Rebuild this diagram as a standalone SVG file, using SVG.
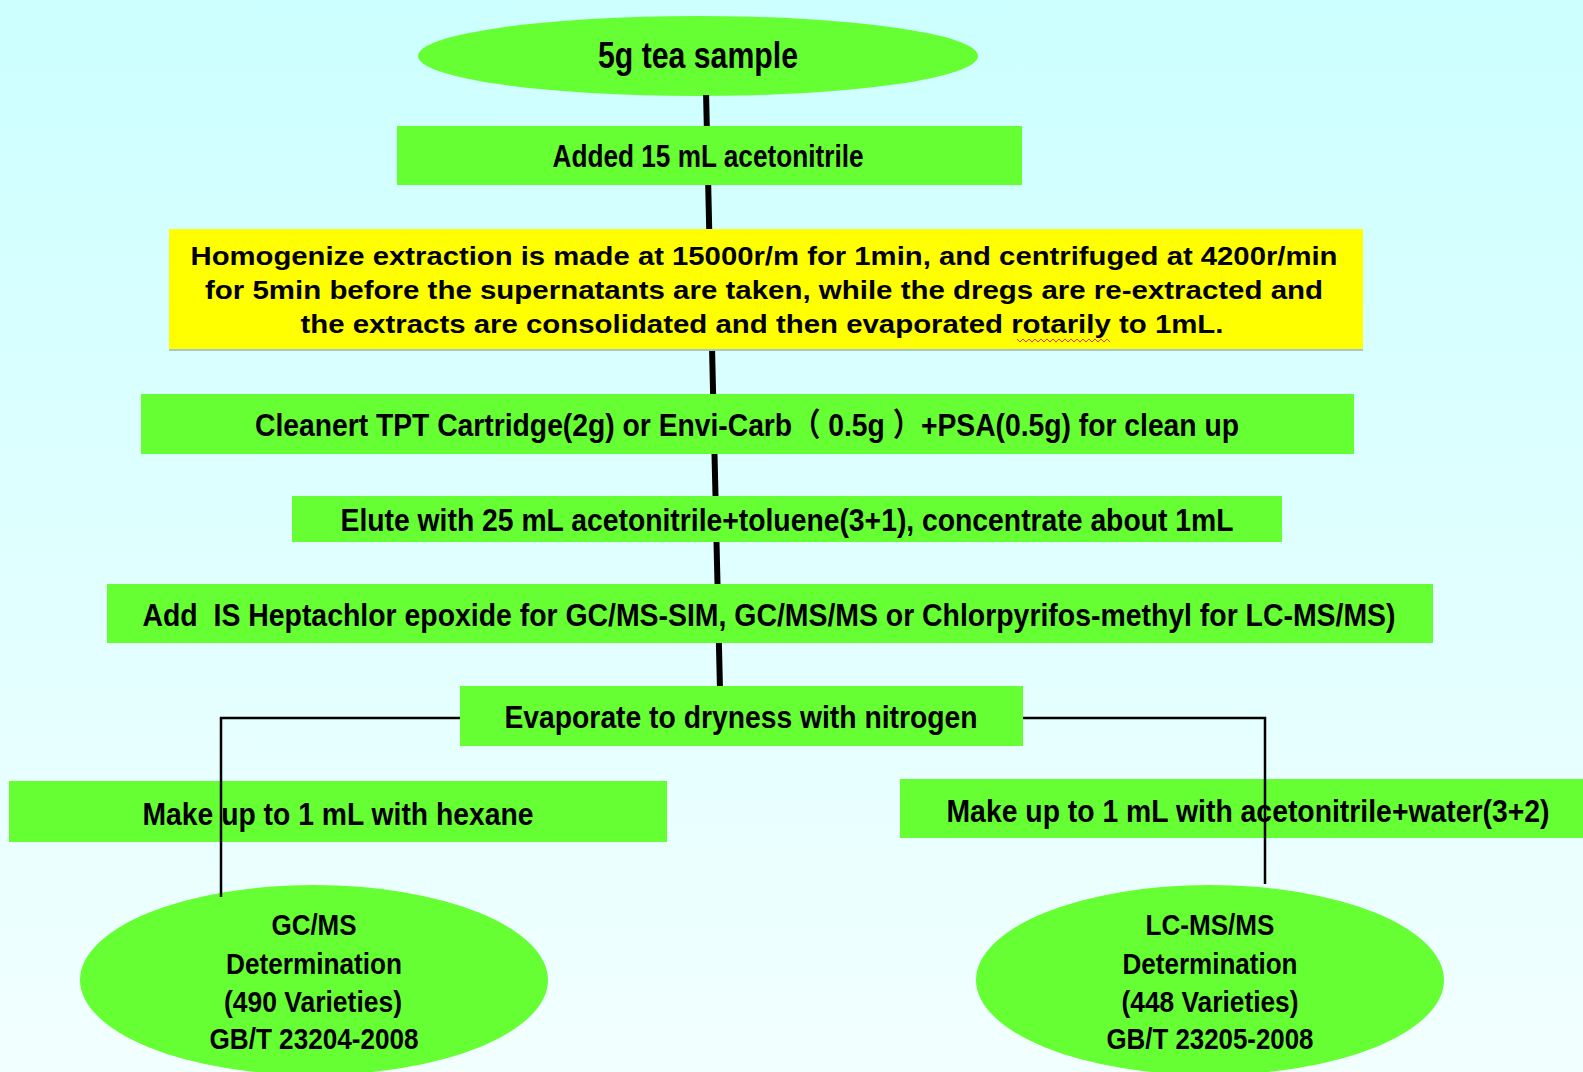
<svg xmlns="http://www.w3.org/2000/svg" width="1583" height="1072" viewBox="0 0 1583 1072">
<defs>
<linearGradient id="bg" x1="0" y1="0" x2="0" y2="1">
<stop offset="0" stop-color="#ccffff"/>
<stop offset="1" stop-color="#f2ffff"/>
</linearGradient>
</defs>
<style>
.g{fill:#66ff33}
.y{fill:#ffff00}
.t{font-family:"Liberation Sans","Noto Sans CJK SC",Arial,sans-serif;font-weight:bold;fill:#000;text-anchor:middle}
.b{font-size:32px}
.e{font-size:29px}
.s{font-size:25px}
.spine{stroke:#000;stroke-width:6;fill:none}
.br{stroke:#000;stroke-width:2.5;fill:none}
</style>
<rect width="1583" height="1072" fill="url(#bg)"/>
<g id="n1">
<ellipse class="g" cx="698" cy="56" rx="280" ry="40"/>
<text class="t" x="698" y="68" font-size="36" textLength="200" lengthAdjust="spacingAndGlyphs">5g tea sample</text>
</g>
<g id="n2">
<rect class="g" x="397" y="126" width="625" height="59"/>
<text class="t b" x="708" y="167" textLength="311" lengthAdjust="spacingAndGlyphs">Added 15 mL acetonitrile</text>
</g>
<g id="n3">
<rect class="y" x="169" y="229" width="1194" height="120"/>
<line x1="169" y1="350" x2="1363" y2="350" stroke="#a8c4d0" stroke-width="2"/>
<text class="t s" x="764" y="265" textLength="1147" lengthAdjust="spacingAndGlyphs">Homogenize extraction is made at 15000r/m for 1min, and centrifuged at 4200r/min</text>
<text class="t s" x="764" y="299" textLength="1118" lengthAdjust="spacingAndGlyphs">for 5min before the supernatants are taken, while the dregs are re-extracted and</text>
<text class="t s" x="762" y="333" textLength="923" lengthAdjust="spacingAndGlyphs">the extracts are consolidated and then evaporated rotarily to 1mL.</text>
<polyline points="1017,339 1020,342 1023,339 1026,342 1029,339 1032,342 1035,339 1038,342 1041,339 1044,342 1047,339 1050,342 1053,339 1056,342 1059,339 1062,342 1065,339 1068,342 1071,339 1074,342 1077,339 1080,342 1083,339 1086,342 1089,339 1092,342 1095,339 1098,342 1101,339 1104,342 1107,339 1110,342" fill="none" stroke="#e03030" stroke-width="1"/>
</g>
<g id="n4">
<rect class="g" x="141" y="394" width="1213" height="60"/>
<text class="t b" x="747" y="436" textLength="984" lengthAdjust="spacingAndGlyphs">Cleanert TPT Cartridge(2g) or Envi-Carb（ 0.5g ）+PSA(0.5g) for clean up</text>
</g>
<g id="n5">
<rect class="g" x="292" y="496" width="990" height="46"/>
<text class="t b" x="787" y="531" textLength="893" lengthAdjust="spacingAndGlyphs">Elute with 25 mL acetonitrile+toluene(3+1), concentrate about 1mL</text>
</g>
<g id="n6">
<rect class="g" x="107" y="584" width="1326" height="59"/>
<text class="t b" x="769" y="626" textLength="1253" lengthAdjust="spacingAndGlyphs" xml:space="preserve">Add  IS Heptachlor epoxide for GC/MS-SIM, GC/MS/MS or Chlorpyrifos-methyl for LC-MS/MS)</text>
</g>
<g id="n7">
<rect class="g" x="460" y="686" width="563" height="60"/>
<text class="t b" x="741" y="728" textLength="473" lengthAdjust="spacingAndGlyphs">Evaporate to dryness with nitrogen</text>
</g>
<g id="n8">
<rect class="g" x="9" y="781" width="658" height="61"/>
<text class="t b" x="338" y="825" textLength="391" lengthAdjust="spacingAndGlyphs">Make up to 1 mL with hexane</text>
</g>
<g id="n9">
<rect class="g" x="900" y="779" width="683" height="59"/>
<text class="t b" x="1248" y="822" textLength="603" lengthAdjust="spacingAndGlyphs">Make up to 1 mL with acetonitrile+water(3+2)</text>
</g>
<g id="n10">
<ellipse class="g" cx="314" cy="980" rx="234" ry="95"/>
<text class="t e" x="314" y="935" textLength="85" lengthAdjust="spacingAndGlyphs">GC/MS</text>
<text class="t e" x="314" y="974" textLength="176" lengthAdjust="spacingAndGlyphs">Determination</text>
<text class="t e" x="313" y="1012" textLength="178" lengthAdjust="spacingAndGlyphs">(490 Varieties)</text>
<text class="t e" x="314" y="1049" textLength="209" lengthAdjust="spacingAndGlyphs">GB/T 23204-2008</text>
</g>
<g id="n11">
<ellipse class="g" cx="1210" cy="980" rx="234" ry="95"/>
<text class="t e" x="1210" y="935" textLength="129" lengthAdjust="spacingAndGlyphs">LC-MS/MS</text>
<text class="t e" x="1210" y="974" textLength="175" lengthAdjust="spacingAndGlyphs">Determination</text>
<text class="t e" x="1210" y="1012" textLength="177" lengthAdjust="spacingAndGlyphs">(448 Varieties)</text>
<text class="t e" x="1210" y="1049" textLength="207" lengthAdjust="spacingAndGlyphs">GB/T 23205-2008</text>
</g>
<g id="connectors">
<line class="spine" x1="706.1" y1="95" x2="706.8" y2="126"/>
<line class="spine" x1="708.2" y1="185" x2="709.2" y2="229"/>
<line class="spine" x1="712.1" y1="351" x2="713.1" y2="394"/>
<line class="spine" x1="714.5" y1="454" x2="715.5" y2="496"/>
<line class="spine" x1="716.5" y1="542" x2="717.5" y2="584"/>
<line class="spine" x1="718.9" y1="643" x2="719.9" y2="686"/>
<polyline class="br" points="460,718 221,718 221,897"/>
<polyline class="br" points="1023,718 1265,718 1265,884"/>
</g>
</svg>
